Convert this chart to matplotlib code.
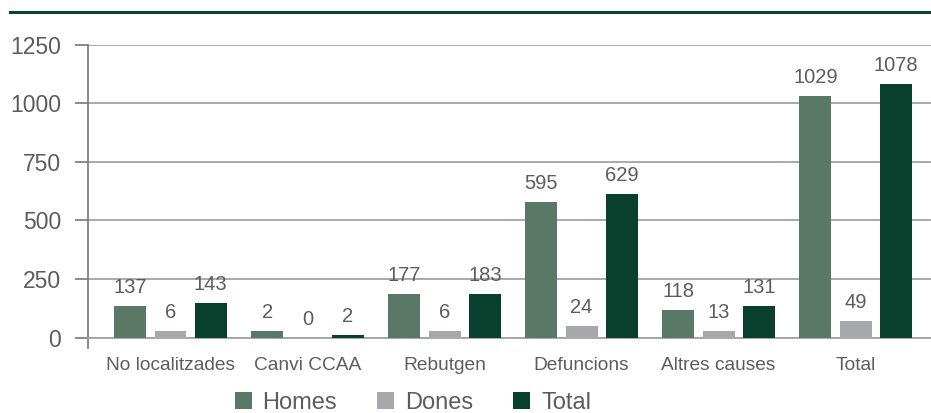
import numpy as np
import matplotlib
matplotlib.use("Agg")
import matplotlib.pyplot as plt
from matplotlib.lines import Line2D

plt.rcParams['font.family'] = ['Liberation Sans', 'DejaVu Sans']

categories = ["No localitzades", "Canvi CCAA", "Rebutgen", "Defuncions", "Altres causes", "Total"]
series = ["Homes", "Dones", "Total"]
# values written above the bars
homes = [137, 2, 177, 595, 118, 1029]
dones = [6, 0, 6, 24, 13, 49]
total = [143, 2, 183, 629, 131, 1078]
# bar heights as drawn in the original (they do not quite follow the labels)
homes_drawn = [134, 27, 185, 577, 117, 1033]
dones_drawn = [27, 0, 27, 48, 27, 70]
total_drawn = [146, 10, 185, 611, 134, 1084]

colors = ["#5a7868", "#a7a8ab", "#093f2d"]
txt = "#5c5c5c"

fig = plt.figure(figsize=(9.31, 4.13), dpi=100)
ax = fig.add_axes([88.3 / 931, 1 - 337.7 / 413, 1 - 88.3 / 931, (337.7 - 44.7) / 413])

x = np.arange(len(categories))
w = 0.233
step = 0.294
for i, (drawn, vals) in enumerate(zip([homes_drawn, dones_drawn, total_drawn], [homes, dones, total])):
    bars = ax.bar(x + (i - 1) * step, drawn, w, color=colors[i], label=series[i], zorder=3)
    ax.bar_label(bars, labels=[str(v) for v in vals], padding=6.5, fontsize=14.5, color=txt)

ax.set_xlim(-0.6, 5.55)
ax.set_ylim(0, 1250)
ax.set_yticks([0, 250, 500, 750, 1000, 1250])
ax.yaxis.grid(True, color="#a3a3a3", linewidth=1.3, zorder=0)
ax.set_axisbelow(True)

for s in ["top", "right"]:
    ax.spines[s].set_visible(False)
ax.spines["bottom"].set_color("#a3a3a3")
ax.spines["bottom"].set_linewidth(1.3)
ax.spines["left"].set_color("#777777")
ax.spines["left"].set_linewidth(1.2)
ax.spines["left"].set_bounds(-42, 1250)

ax.tick_params(axis="y", length=9.5, width=1.2, color="#777777", pad=10, labelsize=16.5, labelcolor=txt)
ax.set_xticks(x)
ax.set_xticklabels(categories)
ax.tick_params(axis="x", length=0, pad=14, labelsize=13.8, labelcolor=txt)

leg = fig.legend(loc="center", bbox_to_anchor=(0.4436, 1 - 403 / 413), ncol=3, frameon=False,
                 fontsize=17, handlelength=0.72, handleheight=0.72, handletextpad=0.46,
                 columnspacing=1.7, borderaxespad=0, borderpad=0)
for t in leg.get_texts():
    t.set_color(txt)

fig.add_artist(Line2D([10 / 931, 1], [1 - 12.3 / 413] * 2, color="#0b4332", linewidth=2.2))

fig.savefig("out.png", dpi=100)
